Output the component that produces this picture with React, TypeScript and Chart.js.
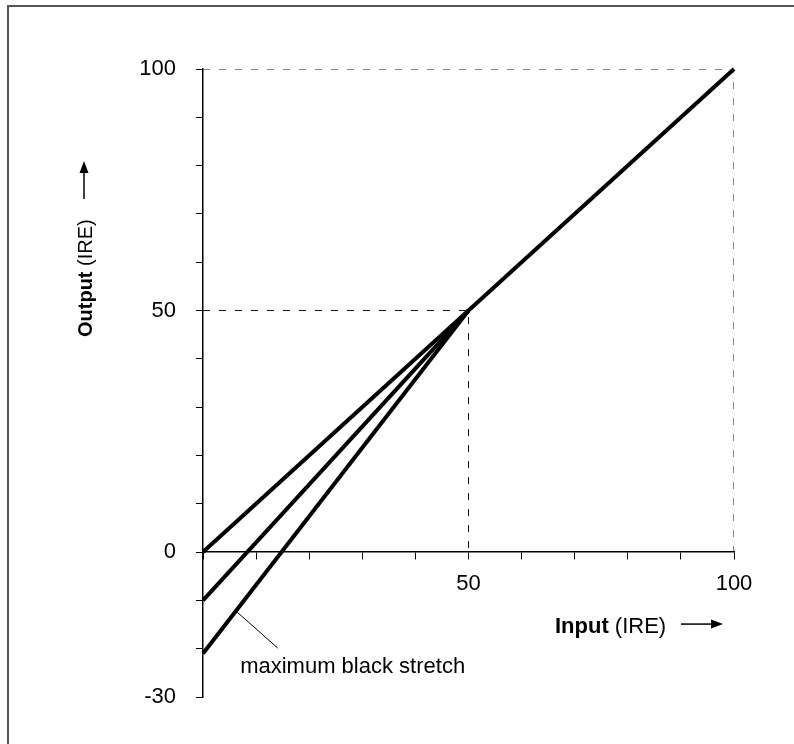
import React, { useEffect, useRef } from "react";
import { Chart, registerables } from "chart.js";

Chart.register(...registerables);

// ---- data ----
const normalInput = [0, 50, 100];
const normalOutput = [0, 50, 100];
const stretchInput = [0, 50];
const midStretchOutput = [-10, 50];
const maxStretchOutput = [-21, 50];
const refHighX = [0, 100, 100];
const refHighY = [100, 100, 0];
const refMidX = [0, 50, 50];
const refMidY = [50, 50, 0];
const xLabelTicks = [50, 100];
const yLabelTicks = [100, 50, 0, -30];
const annotationText = "maximum black stretch";
const leaderFrom = [6.4, -12.4];
const leaderTo = [14.1, -19.9];
const annotationAt = [7.0, -25.0];

const FONT = '"Liberation Sans", Arial, sans-serif';

const pts = (xs: number[], ys: number[]) => xs.map((v, i) => ({ x: v, y: ys[i] }));

function arrow(ctx: CanvasRenderingContext2D, x1: number, y1: number, x2: number, y2: number) {
  const ang = Math.atan2(y2 - y1, x2 - x1);
  const hl = 12, hw = 4.5;
  const bx = x2 - hl * Math.cos(ang), by = y2 - hl * Math.sin(ang);
  ctx.beginPath();
  ctx.moveTo(x1, y1);
  ctx.lineTo(bx, by);
  ctx.lineWidth = 1.5;
  ctx.stroke();
  ctx.beginPath();
  ctx.moveTo(x2, y2);
  ctx.lineTo(bx - hw * Math.sin(ang), by + hw * Math.cos(ang));
  ctx.lineTo(bx + hw * Math.sin(ang), by - hw * Math.cos(ang));
  ctx.closePath();
  ctx.fill();
}

const decorPlugin = {
  id: "decor",
  afterDatasetsDraw(chart: any) {
    const { ctx, chartArea, scales } = chart;
    const x = scales.x, y = scales.y;
    ctx.save();
    ctx.strokeStyle = "#000";
    ctx.fillStyle = "#000";
    // leader line
    ctx.lineWidth = 1;
    ctx.beginPath();
    ctx.moveTo(x.getPixelForValue(leaderFrom[0]), y.getPixelForValue(leaderFrom[1]));
    ctx.lineTo(x.getPixelForValue(leaderTo[0]), y.getPixelForValue(leaderTo[1]));
    ctx.stroke();
    ctx.font = `22px ${FONT}`;
    ctx.textAlign = "left";
    ctx.textBaseline = "alphabetic";
    ctx.fillText(annotationText, x.getPixelForValue(annotationAt[0]), y.getPixelForValue(annotationAt[1]));

    // x title
    const xtX = chartArea.right - 179;
    const xtY = y.getPixelForValue(0) + 81;
    ctx.font = `bold 22px ${FONT}`;
    ctx.fillText("Input", xtX, xtY);
    const w1 = ctx.measureText("Input ").width;
    ctx.font = `22px ${FONT}`;
    ctx.fillText("(IRE)", xtX + w1, xtY);
    arrow(ctx, chartArea.right - 53, xtY - 9, chartArea.right - 11, xtY - 9);

    // y title
    const ytX = chartArea.left - 111;
    const ytY = chartArea.top + 268;
    ctx.save();
    ctx.translate(ytX, ytY);
    ctx.rotate(-Math.PI / 2);
    ctx.font = `bold 20px ${FONT}`;
    ctx.fillText("Output", 0, 0);
    const w2 = ctx.measureText("Output ").width;
    ctx.font = `20px ${FONT}`;
    ctx.fillText("(IRE)", w2, 0);
    ctx.restore();
    arrow(ctx, ytX - 8, chartArea.top + 130, ytX - 8, chartArea.top + 92);
    ctx.restore();
  },
};

export default function App() {
  const ref = useRef<HTMLCanvasElement | null>(null);
  useEffect(() => {
    if (!ref.current) return;
    const dashed = {
      borderColor: "#111",
      borderWidth: 1,
      borderDash: [7, 9],
      pointRadius: 0,
      fill: false,
      tension: 0,
    };
    const solid = {
      borderColor: "#000",
      borderWidth: 4,
      pointRadius: 0,
      fill: false,
      tension: 0,
      clip: false as any,
    };
    const chart = new Chart(ref.current, {
      type: "line",
      data: {
        datasets: [
          { ...dashed, label: "ref100", data: pts(refHighX, refHighY) },
          { ...dashed, label: "ref50", data: pts(refMidX, refMidY) },
          { ...solid, label: "normal", data: pts(normalInput, normalOutput) },
          { ...solid, label: "mid stretch", data: pts(stretchInput, midStretchOutput) },
          { ...solid, label: "max stretch", data: pts(stretchInput, maxStretchOutput) },
        ],
      },
      options: {
        animation: false,
        responsive: false,
        devicePixelRatio: 1,
        layout: { padding: { left: 123, right: 60, top: 69, bottom: 47 } },
        plugins: { legend: { display: false }, tooltip: { enabled: false } },
        scales: {
          x: {
            type: "linear",
            min: 0,
            max: 100,
            position: { y: 0 } as any,
            ticks: {
              stepSize: 10,
              autoSkip: false,
              maxRotation: 0,
              padding: 12,
              color: "#000",
              font: { family: FONT, size: 22 },
              callback: (v: any) => (xLabelTicks.includes(Number(v)) ? String(v) : ""),
            },
            grid: { drawOnChartArea: false, drawTicks: true, tickLength: 7, tickColor: "#000", tickWidth: 1 },
            border: { display: true, color: "#000", width: 1.5 },
          },
          y: {
            type: "linear",
            min: -30,
            max: 100,
            position: "left",
            afterFit: (s: any) => {
              s.width = 80;
            },
            ticks: {
              stepSize: 10,
              autoSkip: false,
              padding: 20,
              color: "#000",
              font: { family: FONT, size: 22 },
              callback: (v: any) => (yLabelTicks.includes(Number(v)) ? String(v) : ""),
            },
            grid: { drawOnChartArea: false, drawTicks: true, tickLength: 7, tickColor: "#000", tickWidth: 1 },
            border: { display: true, color: "#000", width: 1.5 },
          },
        },
      },
      plugins: [decorPlugin],
    });
    return () => chart.destroy();
  }, []);
  return (
    <div>
      <div
        style={{
          position: "absolute",
          left: 7,
          top: 5,
          width: 787,
          height: 739,
          boxSizing: "border-box",
          borderLeft: "2px solid #555",
          borderTop: "2px solid #555",
        }}
      />
      <canvas
        ref={ref}
        width={794}
        height={744}
        style={{ position: "absolute", left: 0, top: 0, width: 794, height: 744 }}
      />
    </div>
  );
}
